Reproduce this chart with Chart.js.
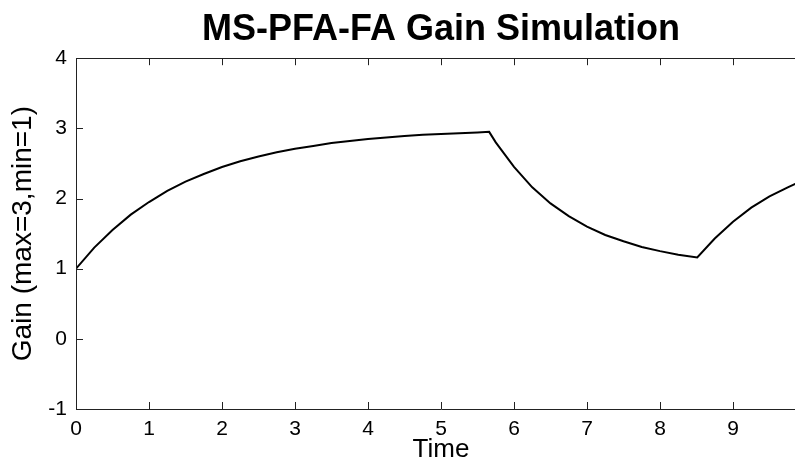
<!DOCTYPE html>
<html>
<head>
<meta charset="utf-8">
<script src="https://cdn.jsdelivr.net/npm/chart.js@4"></script>
<style>
  html, body { margin: 0; padding: 0; background: #fff; overflow: hidden; width: 795px; height: 468px; }
  #wrap { width: 812px; height: 468px; }
</style>
</head>
<body>
<div id="wrap"><canvas id="gain" width="812" height="468"></canvas></div>
<script>
"use strict";

// values
const times = [0, 0.25, 0.5, 0.75, 1, 1.25, 1.5, 1.75, 2, 2.25, 2.5, 2.75, 3, 3.25, 3.5, 3.75,
    4, 4.25, 4.5, 4.75, 5, 5.25, 5.5, 5.66,
    5.75, 6, 6.25, 6.5, 6.75, 7, 7.25, 7.5, 7.75, 8, 8.25, 8.51,
    8.75, 9, 9.25, 9.5, 9.75, 10];
const gains = [1.00, 1.30, 1.55, 1.77, 1.95, 2.11, 2.24, 2.35, 2.45, 2.53, 2.60, 2.66, 2.71, 2.75, 2.79, 2.82,
    2.85, 2.87, 2.89, 2.91, 2.92, 2.93, 2.94, 2.95,
    2.80, 2.45, 2.16, 1.93, 1.75, 1.60, 1.48, 1.39, 1.31, 1.25, 1.20, 1.16,
    1.43, 1.67, 1.87, 2.03, 2.16, 2.28];

const xRange = [0, 10];
const yRange = [-1, 4];

const FONT = "'Liberation Sans', Arial, Helvetica, sans-serif";

// MATLAB style box with inward ticks
const boxTicks = {
    id: 'boxTicks',
    afterDatasetsDraw(chart) {
        const {ctx, chartArea: a, scales: {x, y}} = chart;
        const len = 7;
        ctx.save();
        ctx.strokeStyle = '#222';
        ctx.lineWidth = 1;
        ctx.beginPath();
        ctx.rect(Math.round(a.left) + 0.5, Math.round(a.top) + 0.5,
            Math.round(a.right - a.left), Math.round(a.bottom - a.top));
        x.ticks.forEach(t => {
            const px = Math.round(x.getPixelForValue(t.value)) + 0.5;
            ctx.moveTo(px, a.bottom); ctx.lineTo(px, a.bottom - len);
            ctx.moveTo(px, a.top); ctx.lineTo(px, a.top + len);
        });
        y.ticks.forEach(t => {
            const py = Math.round(y.getPixelForValue(t.value)) + 0.5;
            ctx.moveTo(a.left, py); ctx.lineTo(a.left + len, py);
            ctx.moveTo(a.right, py); ctx.lineTo(a.right - len, py);
        });
        ctx.stroke();
        ctx.restore();
    }
};

new Chart(document.getElementById('gain').getContext('2d'), {
    type: 'line',
    data: {
        datasets: [{
            data: times.map((t, i) => ({x: t, y: gains[i]})),
            borderColor: '#000',
            borderWidth: 2,
            pointRadius: 0,
            tension: 0,
            fill: false
        }]
    },
    options: {
        responsive: false,
        animation: false,
        layout: {padding: {left: 0, right: 6, top: 0, bottom: 0}},
        plugins: {
            legend: {display: false},
            tooltip: {enabled: false},
            title: {
                display: true,
                fullSize: false,
                text: 'MS-PFA-FA Gain Simulation',
                color: '#000',
                font: {family: FONT, size: 36, weight: 'bold'},
                padding: {top: 8, bottom: 7}
            }
        },
        scales: {
            x: {
                type: 'linear',
                min: xRange[0],
                max: xRange[1],
                grid: {display: false},
                border: {display: false},
                ticks: {stepSize: 1, color: '#000', padding: 0, font: {family: FONT, size: 21}},
                title: {display: true, text: 'Time', color: '#000',
                    font: {family: FONT, size: 26}, padding: {top: 0, bottom: 3}},
                afterFit: s => { s.height = 59; s.paddingLeft = 0; s.paddingRight = 0; }
            },
            y: {
                min: yRange[0],
                max: yRange[1],
                grid: {display: false},
                border: {display: false},
                ticks: {stepSize: 1, color: '#000', padding: 1, font: {family: FONT, size: 21}},
                title: {display: true, text: 'Gain (max=3,min=1)', color: '#000',
                    font: {family: FONT, size: 28}, padding: {top: 6, bottom: 0}},
                afterFit: s => { s.width = 76; }
            }
        }
    },
    plugins: [boxTicks]
});
</script>
</body>
</html>
